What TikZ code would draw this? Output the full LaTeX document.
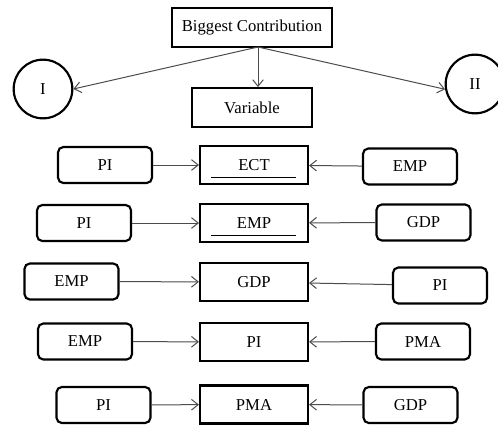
\documentclass[tikz,border=0pt]{standalone}
\usepackage{fontspec}
\setmainfont{Liberation Serif}
\usetikzlibrary{arrows.meta, positioning}

\tikzset{
    varbox/.style={draw, line width=1.6pt, minimum width=81pt, minimum height=28.5pt, inner sep=0pt},
    sidebox/.style={draw, line width=1.6pt, rounded corners=4pt, minimum width=70.5pt, minimum height=27pt, inner sep=0pt},
    ring/.style={draw, circle, line width=1.6pt, minimum size=44pt, inner sep=0pt},
    arr/.style={draw=black!70, line width=0.75pt, -{Straight Barb[length=5pt, width=8pt]}}
}

\begin{document}
\begin{tikzpicture}[x=0.75pt, y=-0.75pt, font=\fontsize{12.5}{15}\selectfont]
    \useasboundingbox (0,0) rectangle (498,424);
    % head
    \node[varbox, minimum width=120pt, minimum height=29pt] (top) at (252, 27.5) {Biggest Contribution};
    \node[varbox, minimum width=90pt, minimum height=29pt] (var) at (252, 107.5) {Variable};
    \node[ring] (one) at (43, 89) {I};
    \node[ring] (two) at (475, 84) {II};
    \coordinate (src) at (258, 47);
    \draw[arr] (src) -- (one.east);
    \draw[arr] (src) -- (src |- var.north);
    \draw[arr] (src) -- (two.190);
    % row 1
    \node[varbox] (ect) at (254, 165) {ECT};
    \node[sidebox] (pia) at (105, 165) {PI};
    \node[sidebox] (empa) at (410, 166.5) {EMP};
    \draw ([shift={(12,-8)}]ect.south west) -- ([shift={(-13,-8)}]ect.south east);
    % row 2
    \node[varbox] (emp) at (254, 223) {EMP};
    \node[sidebox] (pib) at (84, 223) {PI};
    \node[sidebox] (gdpa) at (423.5, 222.5) {GDP};
    \draw ([shift={(12,-8)}]emp.south west) -- ([shift={(-13,-8)}]emp.south east);
    % row 3
    \node[varbox] (gdp) at (254, 282) {GDP};
    \node[sidebox] (empb) at (71.5, 281.5) {EMP};
    \node[sidebox] (pic) at (440, 285.5) {PI};
    % row 4
    \node[varbox] (pi) at (254, 342) {PI};
    \node[sidebox] (empc) at (85, 341.5) {EMP};
    \node[sidebox] (pma) at (423, 341.5) {PMA};
    % row 5
    \node[varbox] (pmb) at (254, 404.5) {PMA};
    \node[sidebox] (pid) at (103.5, 405) {PI};
    \node[sidebox] (gdpb) at (410.5, 405) {GDP};
    % links
    \draw[arr] (pia) -- (ect);
    \draw[arr] (empa) -- (ect);
    \draw[arr] (pib) -- (emp);
    \draw[arr] (gdpa) -- (emp);
    \draw[arr] (empb) -- (gdp);
    \draw[arr] (pic) -- (gdp);
    \draw[arr] (empc) -- (pi);
    \draw[arr] (pma) -- (pi);
    \draw[arr] (pid) -- (pmb);
    \draw[arr] (gdpb) -- (pmb);
\end{tikzpicture}
\end{document}
